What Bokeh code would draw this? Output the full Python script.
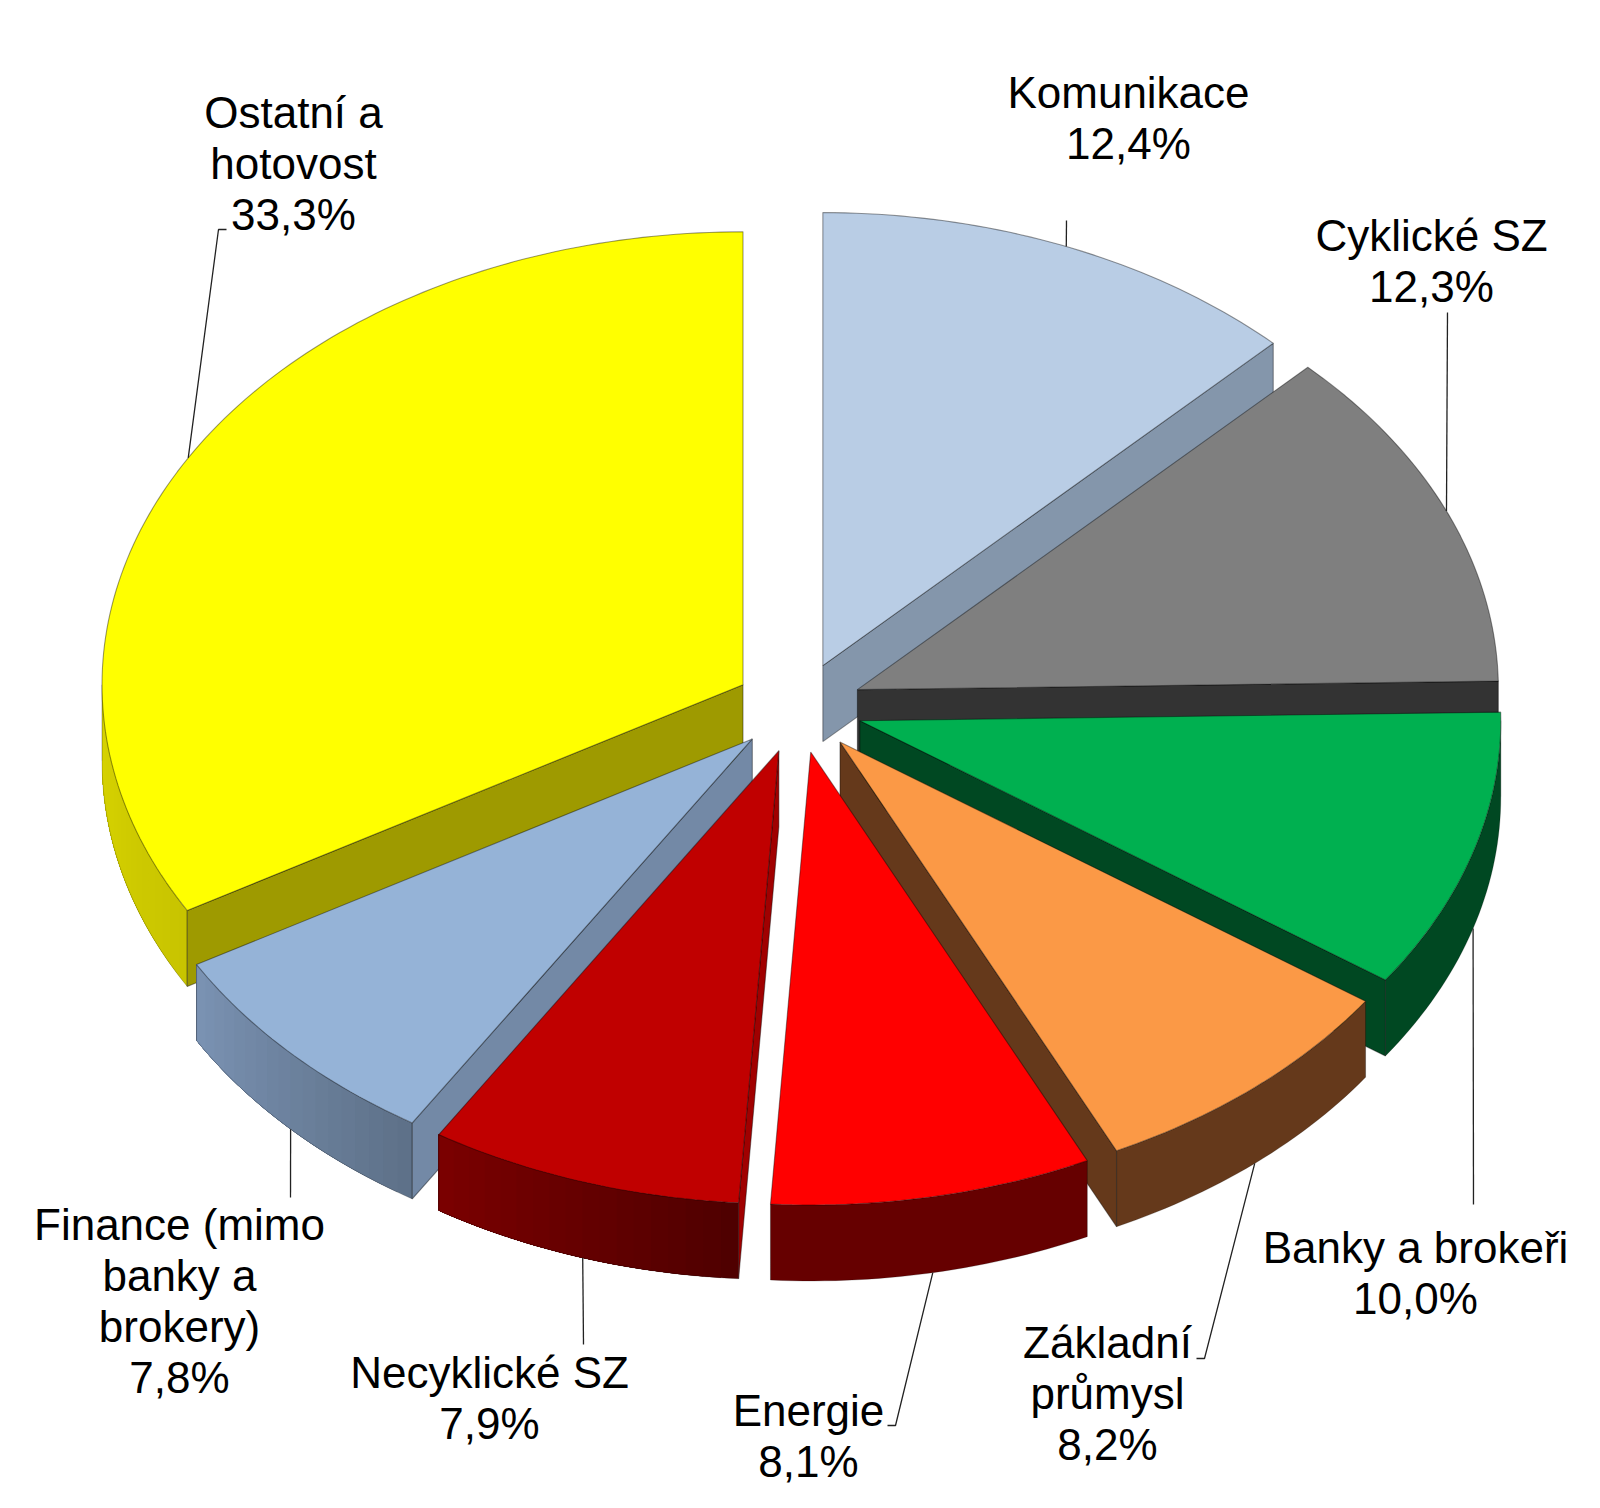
import math
from bokeh.plotting import figure
from bokeh.models import Range1d
from bokeh.core.properties import value
from bokeh.embed import file_html
from bokeh.resources import INLINE

# ---- data ----
categories = ["Komunikace", "Cyklické SZ", "Banky a brokeři", "Základní průmysl",
              "Energie", "Necyklické SZ", "Finance (mimo banky a brokery)", "Ostatní a hotovost"]
shares = [12.4, 12.3, 10.0, 8.2, 8.1, 7.9, 7.8, 33.3]
label_lines = [["Komunikace"], ["Cyklické SZ"], ["Banky a brokeři"], ["Základní", "průmysl"],
               ["Energie"], ["Necyklické SZ"], ["Finance (mimo", "banky a", "brokery)"],
               ["Ostatní a", "hotovost"]]

# ---- styles ----
top_colors = ["#B9CDE5", "#7F7F7F", "#00B050", "#FB9946", "#FF0000", "#C00000", "#95B3D7", "#FFFF00"]
wall_colors = ["#8496AB", "#333333", "#004822", "#65391B", "#660000", "#A00000", "#7389A6", "#9E9A00"]
rim_left = ["#8496AB", "#333333", "#004822", "#65391B", "#660000", "#7A0000", "#7A92B2", "#D8D400"]
rim_right = ["#8496AB", "#333333", "#004822", "#65391B", "#660000", "#4F0000", "#5E7189", "#C8C400"]

# ---- layout (page pixels) ----
CX, CY = 798.0, 707.0
RX, RY = 641.0, 453.0
DEPTH = 76.0
EXPLODE = 0.1
FONT_PX = 44
LINE_H = 51
label_x = [1128, 1431, 1415, 1107, 808, 489, 179, 293]
label_base = [92, 235, 1247, 1342, 1410, 1372, 1224, 112]
# label-side points of each leader line, from the label towards the pie
leader_pts = [[(1066, 220)], [(1447, 312)], [(1473, 1204)], [(1196, 1358), (1204, 1358)],
              [(887, 1425), (895, 1425)], [(583, 1344)], [(290, 1197)], [(226, 229), (218, 229)]]


def rgb(h):
    return tuple(int(h[i:i + 2], 16) for i in (1, 3, 5))


def mix(a, b, t):
    ca, cb = rgb(a), rgb(b)
    return "#%02X%02X%02X" % tuple(round(x + (y - x) * t) for x, y in zip(ca, cb))


p = figure(width=1584, height=1492, output_backend="svg", toolbar_location=None,
           x_range=Range1d(0, 1584), y_range=Range1d(1492, 0),
           min_border=0, outline_line_color=None, background_fill_color="white")
p.xaxis.visible = False
p.yaxis.visible = False
p.xgrid.visible = False
p.ygrid.visible = False

total = sum(shares)
starts, ends = [], []
acc = 0.0
for s in shares:
    starts.append(acc / total * 360.0)
    acc += s
    ends.append(acc / total * 360.0)
mids = [(a + b) / 2 for a, b in zip(starts, ends)]
apex = [(CX + EXPLODE * RX * math.sin(math.radians(m)),
         CY - EXPLODE * RY * math.cos(math.radians(m))) for m in mids]


def pt(i, deg, dz=0.0):
    r = math.radians(deg)
    return apex[i][0] + RX * math.sin(r), apex[i][1] - RY * math.cos(r) + dz


def arc(i, a, b, dz=0.0, step=1.0):
    n = max(2, int(abs(b - a) / step) + 1)
    return [pt(i, a + (b - a) * k / n, dz) for k in range(n + 1)]


EDGE = dict(line_color="#000000", line_alpha=0.4, line_width=1.1)
order = sorted(range(len(shares)), key=lambda i: -math.cos(math.radians(mids[i])))

for i in order:
    a0, a1 = starts[i], ends[i]
    ax, ay = apex[i]
    # visible outer rim (only where the rim faces the viewer)
    r0, r1 = max(a0, 90.0), min(a1, 270.0)
    if r1 > r0:
        # each band runs on to the far end of the rim, so that no gap shows between bands
        n = 1 if rim_left[i] == rim_right[i] else max(4, int((r1 - r0) / 1.5))
        for k in range(n):
            u0 = r0 + (r1 - r0) * k / n
            upper = arc(i, u0, r1)
            lower = arc(i, r1, u0, DEPTH)
            q = upper + lower
            col = mix(rim_right[i], rim_left[i], k / max(1, n - 1))
            p.patch([c[0] for c in q], [c[1] for c in q], fill_color=col, line_color=None)
        lo = arc(i, r0, r1, DEPTH)
        p.line([c[0] for c in lo], [c[1] for c in lo], line_color="#000000", line_alpha=0.2, line_width=1)
        for u in (r0, r1):
            e0, e1 = pt(i, u), pt(i, u, DEPTH)
            p.line([e0[0], e1[0]], [e0[1], e1[1]], line_color="#000000", line_alpha=0.3, line_width=1)
    # visible cut face
    wall_deg = None
    if a1 < 180.0:
        wall_deg = a1
    elif 180.0 < a0 < 360.0:
        wall_deg = a0
    if wall_deg is not None:
        e0, e1 = pt(i, wall_deg), pt(i, wall_deg, DEPTH)
        wx = [ax, e0[0], e1[0], ax]
        wy = [ay, e0[1], e1[1], ay + DEPTH]
        p.patch(wx, wy, fill_color=wall_colors[i], **EDGE)
    # top face
    top = [(ax, ay)] + arc(i, a0, a1)
    p.patch([c[0] for c in top], [c[1] for c in top], fill_color=top_colors[i], **EDGE)

# leader lines: the pie end sits on the rim at the slice's mid angle
for i, pts in enumerate(leader_pts):
    m = mids[i]
    dz = DEPTH if 90.0 < m < 270.0 else 0.0
    tip = pt(i, m, dz)
    path = pts + [tip]
    p.line([c[0] for c in path], [c[1] for c in path], line_color="#222222", line_width=1.3)

# labels
for i, lines in enumerate(label_lines):
    txt = lines + [f"{shares[i]:.1f}".replace(".", ",") + "%"]
    for k, t in enumerate(txt):
        p.text([label_x[i]], [label_base[i] + k * LINE_H], text=[t],
               text_font=value("Liberation Sans"), text_font_size=f"{FONT_PX}px",
               text_color="#000000", text_align="center", text_baseline="alphabetic")

open("out.html", "w").write(file_html(p, INLINE))
